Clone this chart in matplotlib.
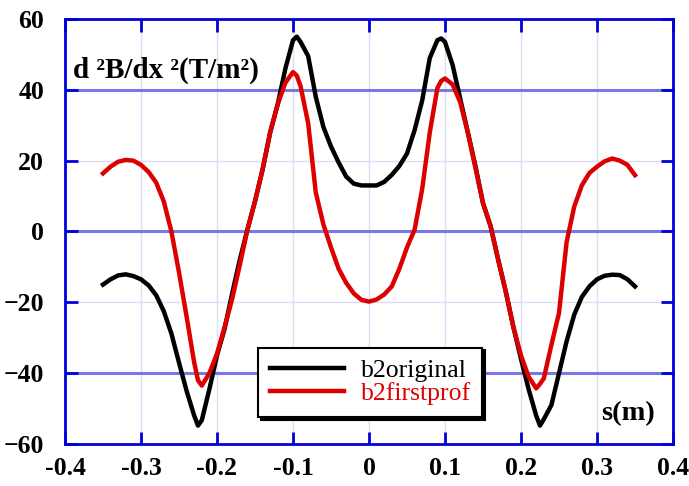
import matplotlib

matplotlib.use("Agg")
import matplotlib.pyplot as plt

# s positions (m) and read-off values (T/m^2)
s = [-0.35, -0.34, -0.33, -0.32, -0.31, -0.30, -0.29, -0.28, -0.27, -0.26,
     -0.25, -0.24, -0.23, -0.225, -0.22, -0.21, -0.20, -0.19, -0.18, -0.17,
     -0.16, -0.15, -0.14, -0.13, -0.12, -0.11, -0.10, -0.095, -0.09, -0.08,
     -0.07, -0.06, -0.05, -0.04, -0.03, -0.02, -0.01, 0.0,
     0.01, 0.02, 0.03, 0.04, 0.05, 0.06, 0.07, 0.08, 0.09, 0.095,
     0.10, 0.11, 0.12, 0.13, 0.14, 0.15, 0.16, 0.17, 0.18, 0.19,
     0.20, 0.21, 0.22, 0.225, 0.23, 0.24, 0.25, 0.26, 0.27, 0.28,
     0.29, 0.30, 0.31, 0.32, 0.33, 0.34, 0.35]

b2original = [-15.0, -13.5, -12.4, -12.1, -12.6, -13.5, -15.2, -18.0, -22.5, -28.8,
              -37.0, -45.0, -52.0, -54.8, -53.3, -44.5, -35.0, -27.5, -17.5, -8.0,
              0.5, 8.5, 17.5, 28.0, 36.0, 46.0, 54.0, 55.0, 53.5, 49.5,
              38.0, 29.5, 24.0, 19.5, 15.5, 13.5, 13.0, 13.0,
              13.0, 14.0, 16.0, 18.5, 22.0, 28.6, 37.0, 49.0, 54.0, 54.5,
              53.5, 47.0, 37.5, 28.0, 18.5, 8.0, 1.5, -8.0, -17.0, -27.0,
              -36.0, -44.5, -52.0, -54.8, -53.0, -49.0, -40.0, -31.0, -23.5, -18.5,
              -15.5, -13.5, -12.5, -12.2, -12.3, -13.5, -15.5]

b2firstprof = [16.4, 18.3, 19.7, 20.2, 20.0, 18.8, 16.8, 13.8, 8.5, 0.0,
               -11.5, -24.0, -37.0, -42.0, -43.5, -40.0, -34.5, -27.0, -19.0, -9.5,
               0.5, 8.5, 17.5, 28.0, 36.0, 42.0, 45.0, 44.0, 41.0, 30.5,
               11.0, 2.0, -4.5, -10.5, -14.5, -17.5, -19.3, -19.8,
               -19.2, -17.8, -15.5, -10.5, -4.5, 0.5, 12.0, 28.0, 40.5, 42.5,
               43.2, 41.5, 36.5, 28.0, 18.0, 8.0, 1.5, -8.0, -17.0, -27.0,
               -35.0, -41.0, -44.3, -43.0, -41.5, -32.0, -23.0, -3.0, 7.0, 13.0,
               16.5, 18.3, 19.8, 20.6, 20.0, 18.8, 15.9]

x_ticks = [-0.4, -0.3, -0.2, -0.1, 0, 0.1, 0.2, 0.3, 0.4]
x_labels = ["-0.4", "-0.3", "-0.2", "-0.1", "0", "0.1", "0.2", "0.3", "0.4"]
y_ticks = [-60, -40, -20, 0, 20, 40, 60]
y_major_grid = [-40, 0, 40]
y_minor_grid = [-20, 20]

SERIF = "Liberation Serif"
BLUE = "#0000dd"

fig = plt.figure(figsize=(6.89, 4.86), dpi=100)
ax = fig.add_axes([0.0943, 0.0864, 0.8825, 0.8746])

# light grid first, heavy grid on top of it
for xv in x_ticks[1:-1]:
    ax.axvline(xv, color="#dcdcf5", lw=1.0, zorder=0)
for yv in y_minor_grid:
    ax.axhline(yv, color="#dcdcf5", lw=1.0, zorder=0)
for yv in y_major_grid:
    ax.axhline(yv, color="#7878e8", lw=2.2, zorder=0.5)

ax.plot(s, b2original, color="black", lw=3.2, label="b2original", zorder=2)
ax.plot(s, b2firstprof, color="#dd0000", lw=3.2, label="b2firstprof", zorder=3)

ax.set_xlim(-0.4, 0.4)
ax.set_ylim(-60, 60)
ax.set_xticks(x_ticks)
ax.set_xticklabels(x_labels)
ax.set_yticks(y_ticks)

for sp in ax.spines.values():
    sp.set_color(BLUE)
    sp.set_linewidth(2.0)

ax.tick_params(axis="both", direction="in", length=9, width=2, color=BLUE,
               top=True, right=True, labelsize=18.5)
ax.tick_params(axis="x", pad=9)
ax.tick_params(axis="y", pad=15)
for lab in ax.get_xticklabels() + ax.get_yticklabels():
    lab.set_fontfamily(SERIF)
    lab.set_fontweight("bold")

ax.text(0.013, 0.862, "d \u00b2B/dx \u00b2(T/m\u00b2)", transform=ax.transAxes,
        fontsize=21, fontweight="bold", family=SERIF, ha="left", va="baseline")
ax.text(0.882, 0.056, "s(m)", transform=ax.transAxes,
        fontsize=20.5, fontweight="bold", family=SERIF, ha="left", va="baseline")

leg = ax.legend(loc="lower left", bbox_to_anchor=(0.3174, 0.064), borderaxespad=0,
                fancybox=False, shadow={"color": "black", "alpha": 1.0},
                framealpha=1.0, edgecolor="black", handlelength=2.9,
                handletextpad=0.65, borderpad=0.45, labelspacing=0.0,
                prop={"family": SERIF, "size": 18.5})
leg.get_frame().set_linewidth(1.5)
leg.set_zorder(5)
for txt, ln in zip(leg.get_texts(), leg.get_lines()):
    txt.set_color(ln.get_color())

fig.savefig("out.png", dpi=100)
